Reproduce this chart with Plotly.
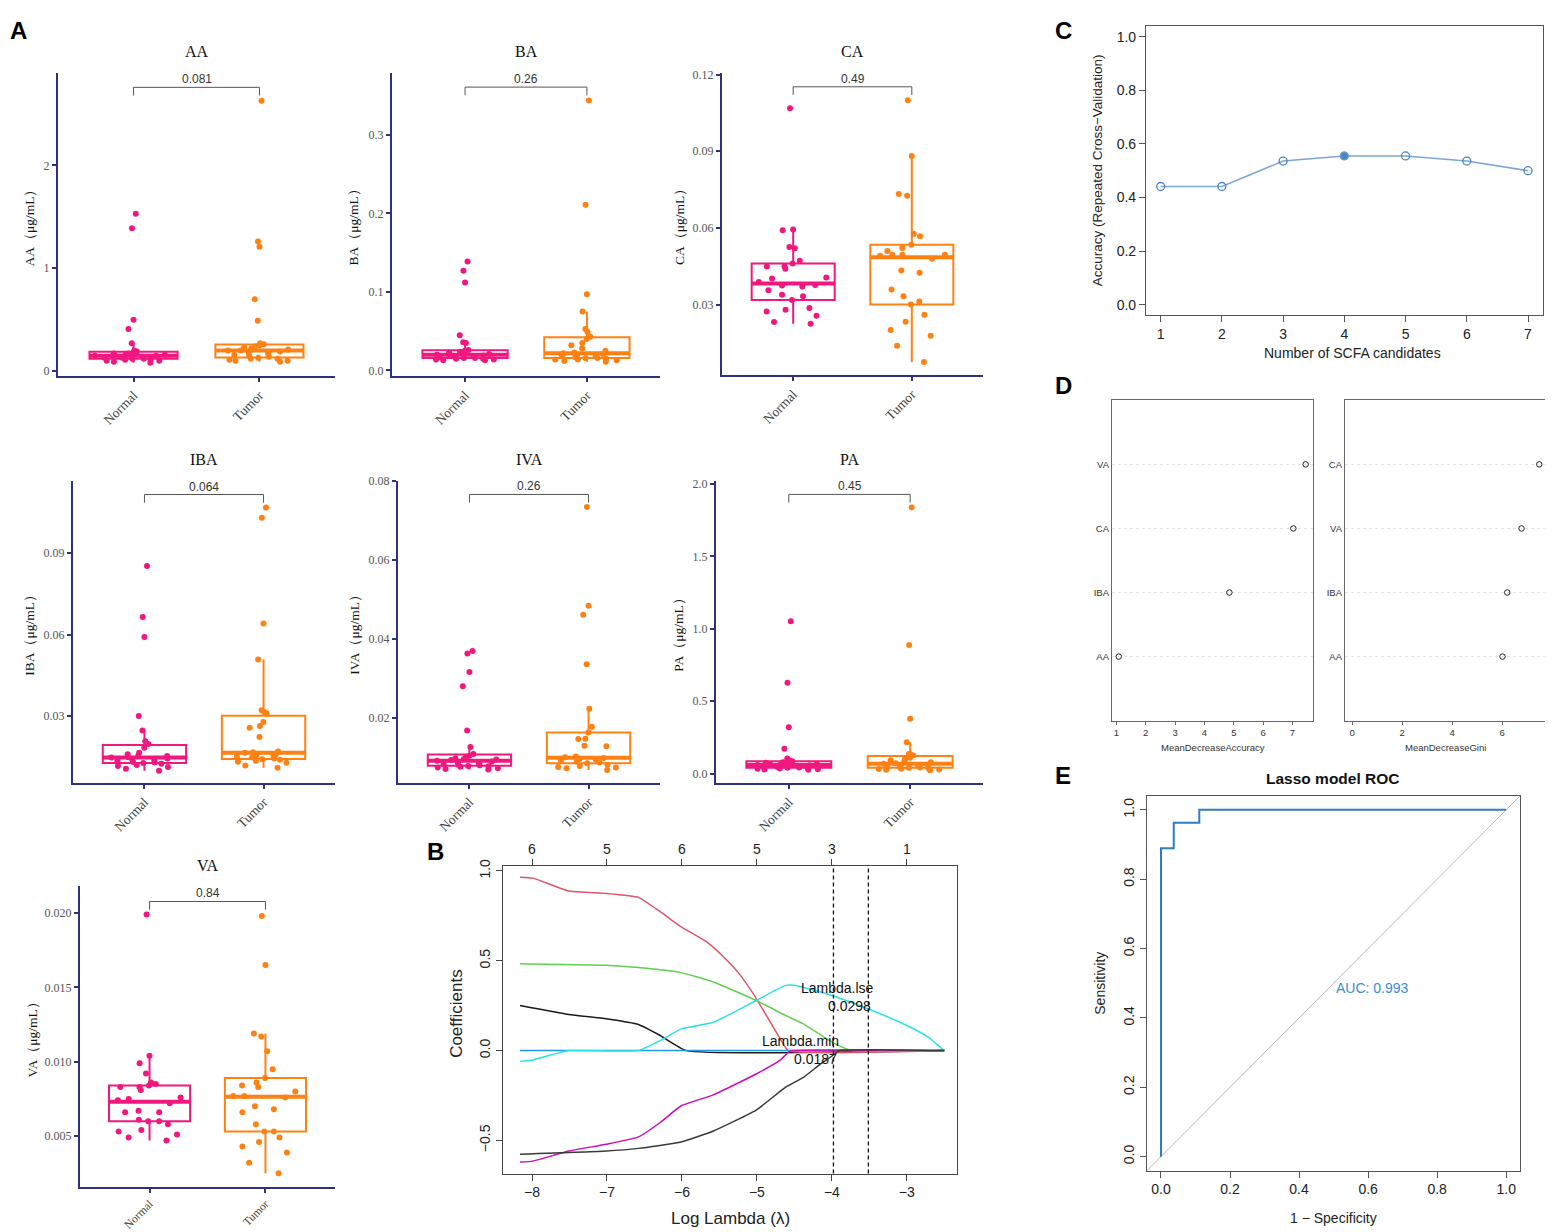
import numpy as np
import plotly.graph_objects as go

# the photographed page shows the figure a little shifted and squeezed; all positions
# below are read from the reference picture and mapped through fx()/fy()
W, H = 1545, 1240
SERIF = "Liberation Serif, Times New Roman, serif"
SANS = "Liberation Sans, Arial, sans-serif"
NAVY = "#2E3180"


def fx(px):
    return (px - 8) / W


def fy(py):
    return 1 - (1.0115 * py - 15.45) / H


# ---------------- A: SCFA levels, Normal vs Tumor ----------------
acids = ["AA", "BA", "CA", "IBA", "IVA", "PA", "VA"]
groups = ["Normal", "Tumor"]
p_values = ["0.081", "0.26", "0.49", "0.064", "0.26", "0.45", "0.84"]

aa_normal = [1.53, 1.39, 0.50, 0.41, 0.27, 0.20, 0.19, 0.18, 0.17, 0.17, 0.16, 0.16, 0.15, 0.15,
             0.15, 0.14, 0.14, 0.13, 0.13, 0.12, 0.12, 0.11, 0.11, 0.10, 0.10, 0.09, 0.08]
aa_tumor = [2.63, 1.26, 1.21, 0.70, 0.49, 0.27, 0.26, 0.25, 0.24, 0.23, 0.22, 0.21, 0.20, 0.20,
            0.19, 0.18, 0.17, 0.16, 0.15, 0.14, 0.13, 0.12, 0.12, 0.11, 0.10, 0.10, 0.09]
ba_normal = [0.139, 0.127, 0.112, 0.045, 0.036, 0.035, 0.026, 0.025, 0.024, 0.023, 0.022, 0.021,
             0.020, 0.020, 0.019, 0.018, 0.018, 0.017, 0.017, 0.016, 0.016, 0.015, 0.015, 0.014,
             0.014, 0.013, 0.013]
ba_tumor = [0.344, 0.211, 0.097, 0.075, 0.053, 0.049, 0.043, 0.040, 0.035, 0.032, 0.028, 0.025,
            0.023, 0.022, 0.021, 0.020, 0.019, 0.018, 0.017, 0.016, 0.016, 0.015, 0.014, 0.014,
            0.013, 0.012, 0.011]
ca_normal = [0.1068, 0.0594, 0.0591, 0.0526, 0.0521, 0.0472, 0.0462, 0.0451, 0.0450, 0.0441,
             0.0407, 0.0403, 0.0389, 0.0378, 0.0376, 0.0372, 0.0357, 0.0339, 0.0334, 0.0319,
             0.0288, 0.0281, 0.0274, 0.0257, 0.0233, 0.0226]
ca_tumor = [0.1099, 0.0882, 0.0733, 0.0726, 0.0578, 0.0568, 0.0535, 0.0522, 0.0510, 0.0496,
            0.0496, 0.0496, 0.0492, 0.0480, 0.0434, 0.0425, 0.0360, 0.0334, 0.0313, 0.0301,
            0.0261, 0.0234, 0.0202, 0.0179, 0.0140, 0.0077]
iba_normal = [0.0852, 0.0665, 0.0591, 0.0301, 0.0248, 0.0208, 0.0198, 0.0184, 0.0166, 0.0160,
              0.0156, 0.0154, 0.0150, 0.0148, 0.0145, 0.0142, 0.0138, 0.0136, 0.0132, 0.0130,
              0.0128, 0.0125, 0.0121, 0.0117, 0.0113, 0.0107, 0.0100]
iba_tumor = [0.1067, 0.1030, 0.0641, 0.0509, 0.0322, 0.0316, 0.0310, 0.0279, 0.0264, 0.0258,
             0.0224, 0.0170, 0.0168, 0.0166, 0.0160, 0.0156, 0.0154, 0.0150, 0.0148, 0.0145,
             0.0142, 0.0140, 0.0136, 0.0133, 0.0129, 0.0119, 0.0111]
iva_normal = [0.0369, 0.0363, 0.0316, 0.0280, 0.0168, 0.0126, 0.0108, 0.0104, 0.0100, 0.0097,
              0.0095, 0.0094, 0.0093, 0.0091, 0.0089, 0.0087, 0.0085, 0.0083, 0.0081, 0.0080,
              0.0078, 0.0077, 0.0076, 0.0074, 0.0072, 0.0070, 0.0069]
iva_tumor = [0.0734, 0.0484, 0.0461, 0.0336, 0.0223, 0.0177, 0.0163, 0.0147, 0.0146, 0.0129,
             0.0128, 0.0102, 0.0100, 0.0098, 0.0096, 0.0094, 0.0092, 0.0089, 0.0087, 0.0085,
             0.0081, 0.0078, 0.0075, 0.0074, 0.0072, 0.0068]
pa_normal = [1.052, 0.627, 0.321, 0.171, 0.105, 0.092, 0.086, 0.082, 0.079, 0.075, 0.070, 0.066,
             0.063, 0.060, 0.058, 0.055, 0.052, 0.049, 0.046, 0.043, 0.040, 0.038, 0.035, 0.033,
             0.031, 0.029, 0.026]
pa_tumor = [1.838, 0.888, 0.379, 0.217, 0.135, 0.130, 0.125, 0.110, 0.097, 0.092, 0.085, 0.079,
            0.072, 0.068, 0.062, 0.058, 0.055, 0.050, 0.046, 0.043, 0.040, 0.037, 0.034, 0.032,
            0.029, 0.027, 0.024]
va_normal = [0.0199, 0.0104, 0.0099, 0.0092, 0.0086, 0.0085, 0.0084, 0.0083, 0.0083, 0.0081,
             0.0076, 0.0075, 0.0074, 0.0072, 0.0067, 0.0066, 0.0066, 0.0061, 0.0060, 0.0060,
             0.0058, 0.0054, 0.0053, 0.0051, 0.0049, 0.0047]
va_tumor = [0.0198, 0.0165, 0.0119, 0.0117, 0.0107, 0.0095, 0.0089, 0.0086, 0.0084, 0.0083,
            0.0080, 0.0077, 0.0077, 0.0076, 0.0070, 0.0068, 0.0066, 0.0058, 0.0053, 0.0053,
            0.0049, 0.0046, 0.0043, 0.0039, 0.0032, 0.0025]

normal_values = [aa_normal, ba_normal, ca_normal, iba_normal, iva_normal, pa_normal, va_normal]
tumor_values = [aa_tumor, ba_tumor, ca_tumor, iba_tumor, iva_tumor, pa_tumor, va_tumor]

a_yranges = [[-0.05, 2.9], [-0.0073, 0.379], [0.0025, 0.1206], [0.0055, 0.1166],
             [0.0035, 0.0801], [-0.064, 2.023], [0.0016, 0.0218]]
a_yticks = [[0, 1, 2], [0, 0.1, 0.2, 0.3], [0.03, 0.06, 0.09, 0.12], [0.03, 0.06, 0.09],
            [0.02, 0.04, 0.06, 0.08], [0, 0.5, 1.0, 1.5, 2.0], [0.005, 0.010, 0.015, 0.020]]
a_tickformat = [".0f", ".1f", ".2f", ".2f", ".2f", ".1f", ".3f"]
bracket_y = [2.76, 0.361, 0.1152, 0.1115, 0.0766, 1.928, 0.02078]

# ---------------- B: lasso coefficient paths ----------------
log_lambda_ticks = [-8, -7, -6, -5, -4, -3]
df_labels = ["6", "5", "6", "5", "3", "1"]
lambda_min, lambda_lse = 0.0187, 0.0298

black1_x = [-8.16, -7.51, -7.01, -6.58, -6.29, -5.94, -2.50]
black1_y = [0.251, 0.201, 0.177, 0.145, 0.084, 0.0, 0.0]
red_x = [-8.16, -7.99, -7.51, -7.01, -6.58, -6.29, -6.01, -5.67, -5.44, -5.24, -5.05, -4.86,
         -4.70, -4.58, -2.50]
red_y = [0.965, 0.96, 0.888, 0.875, 0.853, 0.773, 0.689, 0.605, 0.52, 0.43, 0.317, 0.186,
         0.074, 0.0, 0.0]
green_x = [-8.16, -7.01, -6.58, -6.01, -5.58, -5.01, -4.62, -4.38, -4.10, -3.91, -3.72, -2.50]
green_y = [0.484, 0.475, 0.462, 0.434, 0.382, 0.279, 0.196, 0.149, 0.074, 0.028, 0.0, 0.0]
blue_x = [-8.16, -2.50]
blue_y = [0.0, 0.0]
cyan_x = [-8.16, -7.99, -7.51, -6.58, -6.29, -6.01, -5.58, -5.01, -4.62, -4.48, -4.0, -3.52,
          -3.0, -2.71, -2.50]
cyan_y = [-0.06, -0.052, 0.0, 0.0, 0.056, 0.121, 0.158, 0.279, 0.363, 0.363, 0.307, 0.233,
          0.140, 0.074, 0.0]
magenta_x = [-8.16, -7.99, -7.51, -7.01, -6.58, -6.29, -6.01, -5.58, -5.01, -4.70, -4.58, -4.55,
             -2.50]
magenta_y = [-0.62, -0.615, -0.559, -0.521, -0.48, -0.40, -0.307, -0.246, -0.13, -0.056, -0.009,
             0.0, 0.0]
black2_x = [-8.16, -7.01, -6.58, -6.01, -5.58, -5.01, -4.62, -4.38, -4.15, -3.96, -3.91, -2.50]
black2_y = [-0.577, -0.559, -0.544, -0.508, -0.447, -0.331, -0.205, -0.149, -0.074, -0.019,
            0.0, 0.0]

# ---------------- C: RFE accuracy ----------------
n_candidates = [1, 2, 3, 4, 5, 6, 7]
cv_accuracy = [0.441, 0.441, 0.536, 0.555, 0.555, 0.536, 0.500]

# ---------------- D: random forest importance ----------------
mda_labels = ["AA", "IBA", "CA", "VA"]
mda_values = [1.08, 4.85, 7.03, 7.45]
gini_labels = ["AA", "IBA", "VA", "CA"]
gini_values = [6.01, 6.20, 6.77, 7.48]

# ---------------- E: ROC ----------------
roc_fpr = [0.0, 0.0, 0.037, 0.037, 0.111, 0.111, 1.0]
roc_tpr = [0.0, 0.889, 0.889, 0.963, 0.963, 1.0, 1.0]
auc_text = "AUC: 0.993"


def dom(x0, x1, top, bottom):
    return [fx(x0), fx(x1)], [fy(bottom), fy(top)]


def refs(i):
    s = "" if i == 1 else str(i)
    return "x" + s, "y" + s, "xaxis" + s, "yaxis" + s


fig = go.Figure()
layout = {}
annotations = []
shapes = []


def paper_text(text, px, py, size, family=SANS, color="#222222", angle=0,
               xanchor="center", yanchor="middle"):
    annotations.append(dict(text=text, x=max(fx(px), 0), y=min(fy(py), 1),
                            xref="paper", yref="paper", showarrow=False, textangle=angle,
                            xanchor=xanchor, yanchor=yanchor,
                            font=dict(family=family, size=size, color=color)))


# ---- panel A ----
a_boxes = [(58, 335, 73, 375), (392, 660, 73, 375), (722, 983, 73, 374),
           (73, 335, 479, 780), (398, 660, 479, 780), (716, 983, 479, 780),
           (80, 335, 883, 1182)]
a_ytitle_x = [30, 354, 679, 30, 355, 679, 32]
a_xtick_size = [13.5, 13.5, 13.5, 13.5, 13.5, 13.5, 11.5]
group_colors = ["#F0187F", "#FF8113"]

for i, acid in enumerate(acids):
    xr, yr, xk, yk = refs(i + 1)
    x0, x1, top, bottom = a_boxes[i]
    xd, yd = dom(x0, x1, top, bottom)
    layout[xk] = dict(domain=xd, anchor=yr, type="category", categoryorder="array",
                      categoryarray=groups, range=[-0.6, 1.6], showline=True,
                      linecolor=NAVY, linewidth=2, ticks="outside", tickcolor=NAVY,
                      tickwidth=2, ticklen=4, tickangle=-45, showgrid=False, zeroline=False,
                      tickfont=dict(family=SERIF, size=a_xtick_size[i], color="#444444"))
    layout[yk] = dict(domain=yd, anchor=xr, range=a_yranges[i], tickvals=a_yticks[i],
                      tickformat=a_tickformat[i], showline=True, linecolor=NAVY, linewidth=2,
                      ticks="outside", tickcolor=NAVY, tickwidth=2, ticklen=4,
                      showgrid=False, zeroline=False,
                      tickfont=dict(family=SERIF, size=12, color="#555555"))
    for g, (name, vals) in enumerate(zip(groups, (normal_values[i], tumor_values[i]))):
        col = group_colors[g]
        fig.add_trace(go.Box(x=[name] * len(vals), y=vals, xaxis=xr, yaxis=yr,
                             boxpoints="all", jitter=0.9, pointpos=0, width=0.7,
                             whiskerwidth=0, fillcolor="rgba(0,0,0,0)",
                             line=dict(color=col, width=2),
                             marker=dict(color=col, size=6), showlegend=False,
                             hoverinfo="y"))
        med = float(np.median(vals))
        shapes.append(dict(type="line", xref=xr, yref=yr, x0=g - 0.35, x1=g + 0.35,
                           y0=med, y1=med, line=dict(color=col, width=4), layer="below"))
    span = a_yranges[i][1] - a_yranges[i][0]
    by = bracket_y[i]
    fig.add_trace(go.Scatter(x=["Normal", "Normal", "Tumor", "Tumor"],
                             y=[by - 0.027 * span, by, by, by - 0.027 * span],
                             xaxis=xr, yaxis=yr, mode="lines",
                             line=dict(color="#555555", width=1), showlegend=False,
                             hoverinfo="skip"))
    annotations.append(dict(text=p_values[i], x=0.5, y=by, xref=xr, yref=yr, showarrow=False,
                            yanchor="bottom", yshift=-1,
                            font=dict(family=SANS, size=12, color="#333333")))
    paper_text(acid, (x0 + x1) / 2, top - 21, 16, family=SERIF, color="#111111")
    paper_text(acid + "（μg/mL）", a_ytitle_x[i], (top + bottom) / 2, 13.5, family=SERIF,
               color="#111111", angle=-90)

# ---- panel B ----
xd, yd = dom(503, 957, 863, 1169)
b_axis = dict(showline=True, mirror=True, linecolor="#444444", linewidth=1.2,
              ticks="outside", tickcolor="#444444", ticklen=6, showgrid=False,
              zeroline=False, tickfont=dict(family=SANS, size=14, color="#222222"))
layout["xaxis8"] = dict(domain=xd, anchor="y8", range=[-8.387, -2.331],
                        tickvals=log_lambda_ticks, **b_axis)
layout["xaxis9"] = dict(domain=xd, anchor="y8", overlaying="x8", side="top",
                        range=[-8.387, -2.331], tickvals=log_lambda_ticks,
                        ticktext=df_labels, **b_axis)
layout["yaxis8"] = dict(domain=yd, anchor="x8", range=[-0.684, 1.026],
                        tickvals=[-0.5, 0.0, 0.5, 1.0], tickformat=".1f", tickangle=-90,
                        **b_axis)

paths = [(black1_x, black1_y, "#1A1A1A"), (red_x, red_y, "#DF536B"),
         (green_x, green_y, "#61D04F"), (blue_x, blue_y, "#2297E6"),
         (cyan_x, cyan_y, "#28E2E5"), (magenta_x, magenta_y, "#CD0BBC"),
         (black2_x, black2_y, "#3A3A3A")]
for px_, py_, col in paths:
    fig.add_trace(go.Scatter(x=px_, y=py_, xaxis="x8", yaxis="y8", mode="lines",
                             line=dict(color=col, width=1.5, shape="spline", smoothing=0.4),
                             showlegend=False, hoverinfo="skip"))
fig.add_trace(go.Scatter(x=log_lambda_ticks, y=[0] * len(log_lambda_ticks), xaxis="x9",
                         yaxis="y8", mode="markers", marker=dict(opacity=0),
                         showlegend=False, hoverinfo="skip"))
for lam in (lambda_min, lambda_lse):
    shapes.append(dict(type="line", xref="x8", yref="y8 domain", x0=np.log(lam),
                       x1=np.log(lam), y0=0, y1=1,
                       line=dict(color="#111111", width=1.3, dash="4px,3px")))
b_labels = [("Lambda.lse", -3.93, 0.35), (f"{lambda_lse}", -3.76, 0.25),
            ("Lambda.min", -4.42, 0.054), (f"{lambda_min}", -4.22, -0.046)]
for txt, lx, ly in b_labels:
    annotations.append(dict(text=txt, x=lx, y=ly, xref="x8", yref="y8", showarrow=False,
                            font=dict(family=SANS, size=14, color="#111111")))
paper_text("Coefficients", 457, 1010, 17, angle=-90)
paper_text("Log Lambda (λ)", 730, 1214, 17)

# ---- panel C ----
xd, yd = dom(1146, 1543, 26, 314)
c_axis = dict(showline=True, mirror=True, linecolor="#555555", linewidth=1.2,
              ticks="outside", tickcolor="#555555", ticklen=6, showgrid=False,
              zeroline=False, tickfont=dict(family=SANS, size=14, color="#222222"))
layout["xaxis10"] = dict(domain=xd, anchor="y10", range=[0.76, 7.245],
                         tickvals=n_candidates, **c_axis)
layout["yaxis10"] = dict(domain=yd, anchor="x10", range=[-0.0386, 1.041],
                         tickvals=[0, 0.2, 0.4, 0.6, 0.8, 1.0], tickformat=".1f", **c_axis)
best = int(np.argmax(cv_accuracy))
fig.add_trace(go.Scatter(x=n_candidates, y=cv_accuracy, xaxis="x10", yaxis="y10",
                         mode="lines+markers", line=dict(color="#7BA7D6", width=1.5),
                         marker=dict(symbol=["circle" if k == best else "circle-open"
                                             for k in range(len(n_candidates))],
                                     size=8, color="#4A84C4",
                                     line=dict(color="#6C9DD2", width=1.3)),
                         showlegend=False, hoverinfo="skip"))
paper_text("Accuracy (Repeated Cross−Validation)", 1097, 170, 13.5, angle=-90)
paper_text("Number of SCFA candidates", 1352, 352, 14)

# ---- panel D ----
d_axis = dict(showline=True, mirror=True, linecolor="#666666", linewidth=1.2,
              zeroline=False, tickfont=dict(family=SANS, size=9.5, color="#333333"))
for k, (x0, x1, labels, vals, rng, ticks, title) in enumerate([
        (1112, 1313, mda_labels, mda_values, [0.85, 7.70], [1, 2, 3, 4, 5, 6, 7],
         "MeanDecreaseAccuracy"),
        (1345, 1546, gini_labels, gini_values, [-0.29, 7.75], [0, 2, 4, 6],
         "MeanDecreaseGini")]):
    n = 11 + k
    xd, yd = dom(x0, x1, 399, 718)
    layout[f"xaxis{n}"] = dict(domain=xd, anchor=f"y{n}", range=rng, tickvals=ticks,
                               ticks="outside", ticklen=3, tickcolor="#666666",
                               showgrid=False, **d_axis)
    layout[f"yaxis{n}"] = dict(domain=yd, anchor=f"x{n}", type="category",
                               categoryorder="array", categoryarray=labels,
                               range=[-1, 4], showgrid=True, gridcolor="#E2E2E2",
                               griddash="dot", gridwidth=1, ticks="", **d_axis)
    fig.add_trace(go.Scatter(x=vals, y=labels, xaxis=f"x{n}", yaxis=f"y{n}", mode="markers",
                             marker=dict(symbol="circle-open", size=5.5, color="#222222",
                                         line=dict(width=1)),
                             showlegend=False, hoverinfo="skip"))
    paper_text(title, (x0 + x1) / 2, 745, 9.5, color="#333333")

# ---- panel E ----
xd, yd = dom(1147, 1520, 793, 1166)
e_axis = dict(showline=True, mirror=True, linecolor="#555555", linewidth=1.2,
              ticks="outside", tickcolor="#555555", ticklen=6, showgrid=False,
              zeroline=False, tickfont=dict(family=SANS, size=14, color="#222222"),
              tickvals=[0, 0.2, 0.4, 0.6, 0.8, 1.0], tickformat=".1f")
layout["xaxis13"] = dict(domain=xd, anchor="y13", range=[-0.0405, 1.04], **e_axis)
layout["yaxis13"] = dict(domain=yd, anchor="x13", range=[-0.04, 1.04], tickangle=-90, **e_axis)
fig.add_trace(go.Scatter(x=[-0.1, 1.1], y=[-0.1, 1.1], xaxis="x13", yaxis="y13", mode="lines",
                         line=dict(color="#BBBBBB", width=1), showlegend=False,
                         hoverinfo="skip"))
fig.add_trace(go.Scatter(x=roc_fpr, y=roc_tpr, xaxis="x13", yaxis="y13", mode="lines",
                         line=dict(color="#2F7DC0", width=2), showlegend=False,
                         hoverinfo="skip"))
annotations.append(dict(text=auc_text, x=0.5, y=0.485, xref="x13", yref="y13",
                        showarrow=False, xanchor="left",
                        font=dict(family=SANS, size=14, color="#3A8DD3")))
paper_text("<b>Lasso model ROC</b>", 1333, 776, 15.5, color="#111111")
paper_text("Sensitivity", 1100, 980, 14, angle=-90)
paper_text("1 − Specificity", 1333, 1213, 14)

# ---- panel letters (top-row letters sit against the upper edge) ----
for letter, lx, ly, ya in [("A", 8, 4, "top"), ("B", 425, 848, "middle"),
                           ("C", 1053, 4, "top"), ("D", 1053, 384, "middle"),
                           ("E", 1053, 773, "middle")]:
    paper_text(f"<b>{letter}</b>", lx, ly, 24, color="#000000", xanchor="left", yanchor=ya)

fig.update_layout(width=W, height=H, margin=dict(l=0, r=0, t=0, b=0),
                  paper_bgcolor="white", plot_bgcolor="white", showlegend=False,
                  annotations=annotations, shapes=shapes, **layout)
fig.write_html("out.html")
